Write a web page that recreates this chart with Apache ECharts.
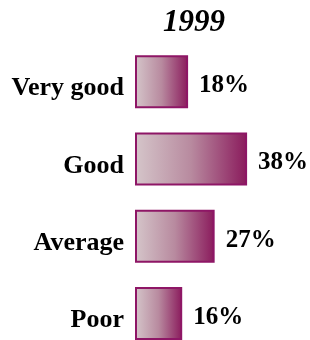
<!DOCTYPE html>
<html>
<head>
<meta charset="utf-8">
<script src="https://cdn.jsdelivr.net/npm/echarts@6/dist/echarts.min.js"></script>
<style>
  html, body { margin: 0; padding: 0; background: #fff; }
  #chart { width: 310px; height: 340px; }
</style>
</head>
<body>
<div id="chart"></div>
<script>
// values
const chartTitle = '1999';
const categories = ['Very good', 'Good', 'Average', 'Poor'];
const shares = [18, 38, 27, 16];

const chart = echarts.init(document.getElementById('chart'));

const barFill = new echarts.graphic.LinearGradient(0, 0, 1, 0, [
  { offset: 0, color: '#d5c6ca' },
  { offset: 0.5, color: '#b88a9f' },
  { offset: 1, color: '#8a1a5c' }
]);

const option = {
  animation: false,
  title: {
    text: chartTitle,
    left: 189,
    textAlign: 'center',
    top: 2,
    textStyle: {
      fontFamily: 'Liberation Serif',
      fontStyle: 'italic',
      fontWeight: 'bold',
      fontSize: 31,
      color: '#000'
    }
  },
  // the last band runs past the bottom edge, as in the original
  grid: { left: 135, top: 43, width: 147.5, height: 309, outerBoundsMode: 'none' },
  xAxis: {
    type: 'value',
    min: 0,
    max: 50,
    show: false
  },
  yAxis: {
    type: 'category',
    inverse: true,
    data: categories,
    axisLine: { show: false },
    axisTick: { show: false },
    axisLabel: {
      margin: 11,
      color: '#000',
      fontFamily: 'Liberation Serif',
      fontWeight: 'bold',
      fontSize: 26,
      verticalAlign: 'top',
      lineHeight: 14
    }
  },
  series: [
    {
      type: 'bar',
      data: shares,
      barWidth: 53,
      itemStyle: {
        color: barFill,
        borderColor: '#8e1666',
        borderWidth: 2
      },
      label: {
        show: true,
        position: 'right',
        distance: 11,
        offset: [0, 4],
        formatter: p => p.value + '%',
        color: '#000',
        fontFamily: 'Liberation Serif',
        fontWeight: 'bold',
        fontSize: 25
      }
    }
  ]
};

chart.setOption(option);
</script>
</body>
</html>
